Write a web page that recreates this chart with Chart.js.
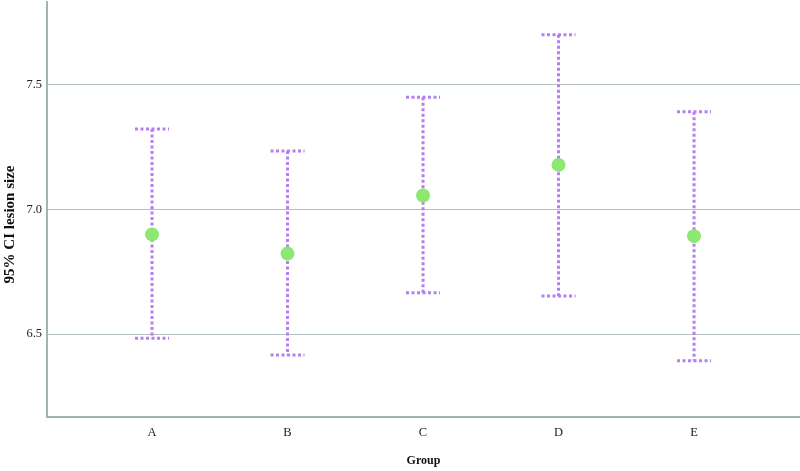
<!DOCTYPE html>
<html>
<head>
<meta charset="utf-8">
<script src="https://cdn.jsdelivr.net/npm/chart.js@4/dist/chart.umd.min.js"></script>
<style>
  html, body { margin: 0; padding: 0; background: #fff; }
  #wrap { width: 800px; height: 471px; }
</style>
</head>
<body>
<div id="wrap"><canvas id="chart"></canvas></div>
<script>
// data
let categories = ['A', 'B', 'C', 'D', 'E']
let means = [6.90, 6.823, 7.056, 7.179, 6.893]
let upper = [7.323, 7.235, 7.451, 7.702, 7.392]
let lower = [6.483, 6.416, 6.666, 6.653, 6.393]
let yTicks = [6.5, 7.0, 7.5]

let barColor = '#b57ef2'
let pointColor = '#8de872'
let axisColor = '#a3b2b5'
let gridColor = '#b3c0c2'

// draws the dotted CI bars behind the points
let errorBars = {
    id: 'errorBars',
    beforeDatasetsDraw(chart)
    {
        let ctx = chart.ctx
        let xs = chart.scales.x, ys = chart.scales.y
        ctx.save()
        ctx.strokeStyle = barColor
        ctx.lineWidth = 3
        ctx.setLineDash([3, 2.5])
        for (let i = 0; i < categories.length; i++)
        {
            let x = xs.getPixelForValue(i)
            let yTop = ys.getPixelForValue(upper[i])
            let yBot = ys.getPixelForValue(lower[i])
            ctx.beginPath()
            ctx.moveTo(x, yTop)
            ctx.lineTo(x, yBot)
            ctx.stroke()
            // caps
            ctx.beginPath()
            ctx.moveTo(x - 17, yTop)
            ctx.lineTo(x + 17, yTop)
            ctx.moveTo(x - 17, yBot)
            ctx.lineTo(x + 17, yBot)
            ctx.stroke()
        }
        ctx.restore()
    }
}

let ctxChart = document.getElementById('chart').getContext('2d')
let chart = new Chart(ctxChart, {
    type: 'scatter',
    data: {
        datasets: [{
            label: 'Mean',
            data: means.map((m, i) => ({ x: i, y: m })),
            backgroundColor: pointColor,
            borderWidth: 0,
            pointRadius: 7,
            pointHoverRadius: 7
        }]
    },
    options: {
        responsive: true,
        maintainAspectRatio: false,
        animation: false,
        events: [],
        layout: { autoPadding: false, padding: { top: 2, right: 0, left: 0, bottom: 0 } },
        plugins: {
            legend: { display: false },
            tooltip: { enabled: false }
        },
        scales: {
            x: {
                type: 'linear',
                min: -0.775,
                max: 4.782,
                afterBuildTicks: (scale) => { scale.ticks = categories.map((c, i) => ({ value: i })) },
                afterFit: (scale) => {
                    scale.height = 54
                    scale.paddingLeft = 0
                    scale.paddingRight = 0
                },
                ticks: {
                    callback: (v) => categories[v],
                    color: '#222',
                    padding: 8,
                    font: { family: 'Liberation Serif', size: 12.5 }
                },
                grid: { display: false, drawTicks: false },
                border: { display: true, color: axisColor, width: 2 },
                title: {
                    display: true,
                    text: 'Group',
                    color: '#111',
                    padding: { top: 0, bottom: 3 },
                    font: { family: 'Liberation Serif', size: 12, weight: 'bold' }
                }
            },
            y: {
                min: 6.167,
                max: 7.833,
                afterBuildTicks: (scale) => { scale.ticks = yTicks.map(v => ({ value: v })) },
                afterFit: (scale) => {
                    scale.width = 47
                    scale.paddingTop = 0
                    scale.paddingBottom = 0
                },
                ticks: {
                    callback: (v) => v.toFixed(1),
                    color: '#222',
                    padding: 5,
                    font: { family: 'Liberation Serif', size: 12.5 }
                },
                grid: { color: gridColor, lineWidth: 1, drawTicks: false },
                border: { display: true, color: axisColor, width: 2 },
                title: {
                    display: true,
                    // trailing spaces push the visible text a little lower, as in the source
                    text: '95% CI lesion size        ',
                    color: '#111',
                    padding: { top: 1, bottom: 0 },
                    font: { family: 'Liberation Serif', size: 15, weight: 'bold' }
                }
            }
        }
    },
    plugins: [errorBars]
})
</script>
</body>
</html>
